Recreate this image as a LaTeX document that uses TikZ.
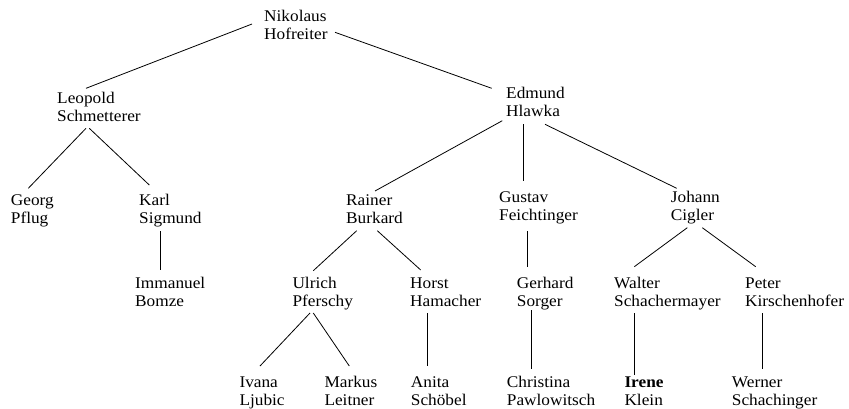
\documentclass[tikz,border=0pt]{standalone}
\usepackage{fontspec}
\setmainfont{Liberation Serif}[FakeStretch=1.06]
\usetikzlibrary{calc}
% two-line name, baseline at the first line
\newcommand\who[2]{\begin{tabular}[t]{@{}l@{}}#1\\#2\end{tabular}}
\begin{document}
\begin{tikzpicture}[x=1pt,y=-1pt,
  person/.style={anchor=base west,inner sep=0pt,font=\fontsize{16.3}{18.3}\selectfont},
  tie/.style={draw=black,line width=0.8pt}]
\useasboundingbox (0,0) rectangle (849,408);

% generation 0
\node[person] (nik) at (264,21) {\who{Nikolaus}{Hofreiter}};
% generation 1
\node[person] (leo) at (57,103.4) {\who{Leopold}{Schmetterer}};
\node[person] (edm) at (506,98) {\who{Edmund}{Hlawka}};
% generation 2
\node[person] (georg) at (10.7,205) {\who{Georg}{Pflug}};
\node[person] (karl) at (139,205) {\who{Karl}{Sigmund}};
\node[person] (rainer) at (346,205) {\who{Rainer}{Burkard}};
\node[person] (gustav) at (499,202) {\who{Gustav}{Feichtinger}};
\node[person] (johann) at (670.7,202) {\who{Johann}{Cigler}};
% generation 3
\node[person] (imm) at (135,288.5) {\who{Immanuel}{Bomze}};
\node[person] (ulrich) at (292.3,288.5) {\who{Ulrich}{Pferschy}};
\node[person] (horst) at (410,288.5) {\who{Horst}{Hamacher}};
\node[person] (gerhard) at (516.7,288.5) {\who{Gerhard}{Sorger}};
\node[person] (walter) at (614,288.5) {\who{Walter}{Schachermayer}};
\node[person] (peter) at (745,288.5) {\who{Peter}{Kirschenhofer}};
% generation 4
\node[person] (ivana) at (239.3,387.5) {\who{Ivana}{Ljubic}};
\node[person] (markus) at (324.3,387.5) {\who{Markus}{Leitner}};
\node[person] (anita) at (410.7,387.5) {\who{Anita}{Schöbel}};
\node[person] (christina) at (506.7,387.5) {\who{Christina}{Pawlowitsch}};
\node[person] (irene) at (624.3,387.5) {\who{\textbf{Irene}}{Klein}};
\node[person] (werner) at (731.7,387.5) {\who{Werner}{Schachinger}};

% advisor links
\draw[tie] ([shift={(-12,3)}]nik.base west) -- ([shift={(29,-15.1)}]leo.base west);
\draw[tie] ([shift={(71,11.3)}]nik.base west) -- ([shift={(-14.3,-9.7)}]edm.base west);
\draw[tie] ([shift={(29,24.9)}]leo.base west) -- ([shift={(17.6,-16.7)}]georg.base west);
\draw[tie] ([shift={(32.3,24.9)}]leo.base west) -- ([shift={(10.3,-20)}]karl.base west);
\draw[tie] ([shift={(-3.7,22.7)}]edm.base west) -- ([shift={(29,-14)}]rainer.base west);
\draw[tie] ([shift={(17.7,26.3)}]edm.base west) -- ([shift={(24.7,-21)}]gustav.base west);
\draw[tie] ([shift={(39,26.3)}]edm.base west) -- ([shift={(6,-13.7)}]johann.base west);
\draw[tie] ([shift={(21.7,26)}]karl.base west) -- ([shift={(25.7,-18.5)}]imm.base west);
\draw[tie] ([shift={(10.7,25.7)}]rainer.base west) -- ([shift={(21,-17.8)}]ulrich.base west);
\draw[tie] ([shift={(31.3,25.7)}]rainer.base west) -- ([shift={(10.7,-18.5)}]horst.base west);
\draw[tie] ([shift={(28.3,29)}]gustav.base west) -- ([shift={(10.6,-21.8)}]gerhard.base west);
\draw[tie] ([shift={(16.6,25.7)}]johann.base west) -- ([shift={(20.3,-21.8)}]walter.base west);
\draw[tie] ([shift={(31.6,25.7)}]johann.base west) -- ([shift={(10.7,-21.8)}]peter.base west);
\draw[tie] ([shift={(17.7,24.5)}]ulrich.base west) -- ([shift={(20.7,-21.5)}]ivana.base west);
\draw[tie] ([shift={(21,24.5)}]ulrich.base west) -- ([shift={(25,-21.5)}]markus.base west);
\draw[tie] ([shift={(17.7,24.8)}]horst.base west) -- ([shift={(17,-21.5)}]anita.base west);
\draw[tie] ([shift={(14.3,21.5)}]gerhard.base west) -- ([shift={(24.3,-18.2)}]christina.base west);
\draw[tie] ([shift={(20.3,24.8)}]walter.base west) -- ([shift={(10,-12.5)}]irene.base west);
\draw[tie] ([shift={(17.3,24.8)}]peter.base west) -- ([shift={(30.6,-18.2)}]werner.base west);
\end{tikzpicture}
\end{document}
